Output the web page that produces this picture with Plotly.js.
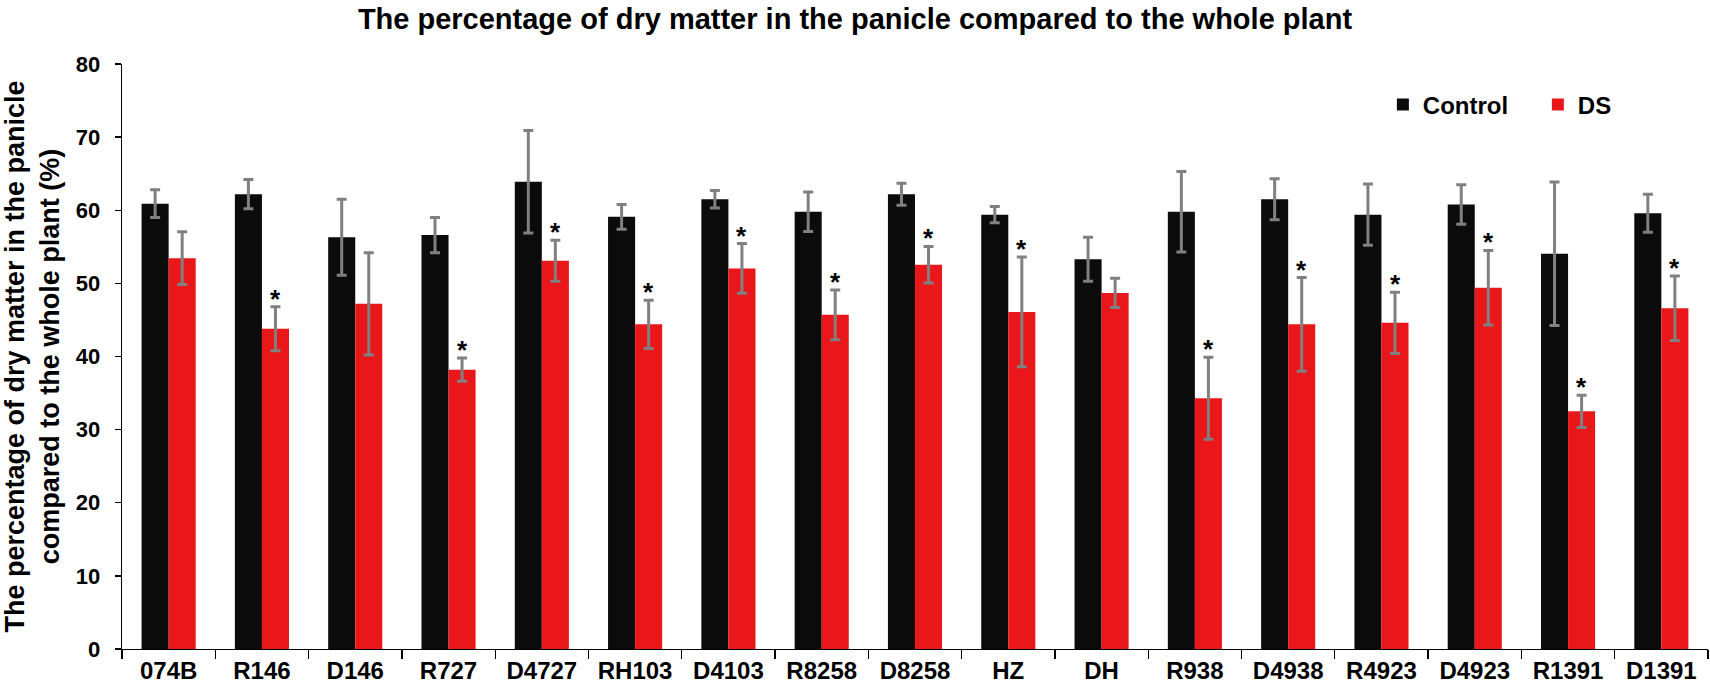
<!DOCTYPE html>
<html>
<head>
<meta charset="utf-8">
<script src="https://cdn.plot.ly/plotly-3.0.1.min.js"></script>
<style>
  html, body { margin: 0; padding: 0; background: #fff; }
  #chart { width: 1710px; height: 689px; }
</style>
</head>
<body>
<div id="chart"></div>
<script>
const lines = ['074B', 'R146', 'D146', 'R727', 'D4727', 'RH103', 'D4103', 'R8258', 'D8258',
  'HZ', 'DH', 'R938', 'D4938', 'R4923', 'D4923', 'R1391', 'D1391'];

const controlMean = [60.9, 62.2, 56.3, 56.6, 63.9, 59.1, 61.5, 59.8, 62.2,
  59.4, 53.3, 59.8, 61.5, 59.4, 60.8, 54.05, 59.6];
const controlErr = [1.9, 2.0, 5.2, 2.4, 7.0, 1.7, 1.2, 2.7, 1.5,
  1.1, 3.0, 5.5, 2.8, 4.2, 2.7, 9.8, 2.6];

const dsMean = [53.45, 43.8, 47.2, 38.2, 53.1, 44.4, 52.05, 45.7, 52.55,
  46.1, 48.7, 34.3, 44.4, 44.6, 49.4, 32.5, 46.6];
const dsErr = [3.6, 3.0, 7.0, 1.6, 2.8, 3.3, 3.4, 3.4, 2.5,
  7.5, 2.0, 5.6, 6.4, 4.2, 5.1, 2.2, 4.4];

// 1 = significant difference under drought stress (star above DS bar)
const significant = [0, 1, 0, 1, 1, 1, 1, 1, 1, 1, 0, 1, 1, 1, 1, 1, 1];

const FONT = 'Liberation Sans, Arial, sans-serif';
const bargap = 0.42;

const errStyle = {type: 'data', visible: true, color: '#808080', thickness: 3, width: 5};

const control = {
  type: 'bar', name: 'Control', x: lines, y: controlMean,
  marker: {color: '#0b0b0b'},
  error_y: Object.assign({array: controlErr}, errStyle)
};
const ds = {
  type: 'bar', name: 'DS', x: lines, y: dsMean,
  marker: {color: '#e9171a'},
  error_y: Object.assign({array: dsErr}, errStyle)
};

// star over each significant DS bar, sitting just above its error bar
const dsOffset = (1 - bargap) / 4;
const stars = [];
lines.forEach((name, i) => {
  if (!significant[i]) return;
  stars.push({
    x: i + dsOffset, y: dsMean[i] + dsErr[i], xref: 'x', yref: 'y',
    text: '*', showarrow: false, yanchor: 'bottom', yshift: -9,
    font: {family: FONT, size: 26, color: '#000', weight: 700}
  });
});

const layout = {
  width: 1710, height: 689,
  margin: {l: 122, r: 2, t: 64, b: 40},
  paper_bgcolor: '#fff', plot_bgcolor: '#fff',
  font: {family: FONT, color: '#000', weight: 700},
  title: {
    text: 'The percentage of dry matter in the panicle compared to the whole plant',
    font: {family: FONT, size: 29, color: '#000', weight: 700},
    x: 0.5, xref: 'container', xanchor: 'center',
    y: 0.972, yref: 'container', yanchor: 'middle'
  },
  barmode: 'group', bargap: bargap, bargroupgap: 0,
  showlegend: true,
  legend: {
    orientation: 'h', x: 0.795, y: 0.93, xanchor: 'left', yanchor: 'middle',
    font: {family: FONT, size: 24, color: '#000', weight: 700},
    entrywidth: 110, bgcolor: 'rgba(0,0,0,0)'
  },
  xaxis: {
    type: 'category', tickson: 'boundaries',
    showline: true, linecolor: '#000', linewidth: 1.3,
    ticks: 'outside', ticklen: 9, tickcolor: '#000', tickwidth: 1.3,
    showgrid: false, zeroline: false,
    tickfont: {family: FONT, size: 24, color: '#000', weight: 700}
  },
  yaxis: {
    range: [0, 80], dtick: 10, tick0: 0,
    showline: true, linecolor: '#000', linewidth: 1.3,
    ticks: 'outside', ticklen: 6, tickcolor: '#000', tickwidth: 1.3,
    showgrid: false, zeroline: false, ticklabelstandoff: 10,
    tickfont: {family: FONT, size: 22, color: '#000', weight: 700},
    title: {
      text: 'The percentage of dry matter in the panicle<br>compared to the whole plant (%)',
      font: {family: FONT, size: 27, color: '#000', weight: 700},
      standoff: 14
    }
  },
  annotations: stars
};

Plotly.newPlot('chart', [control, ds], layout, {staticPlot: true});
</script>
</body>
</html>
